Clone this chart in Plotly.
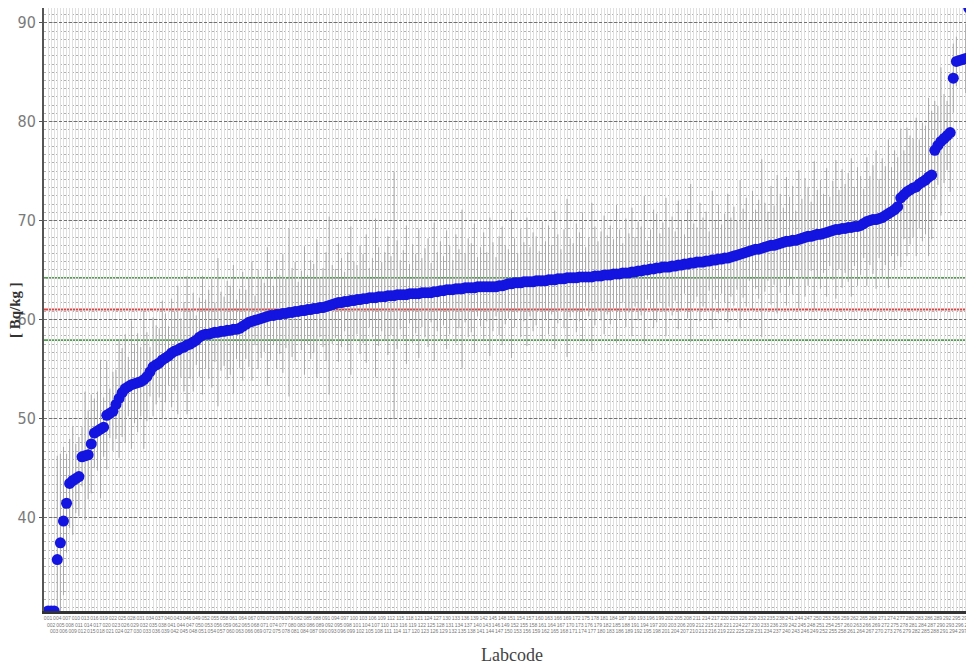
import plotly.graph_objects as go

# Sorted lab results [Bq/kg]
values = [
    30.5, 30.5, 30.5, 35.7, 37.4, 39.6, 41.4, 43.4, 43.7, 43.9,
    44.1, 46.1, 46.2, 46.3, 47.4, 48.5, 48.7, 48.9, 49.1, 50.3,
    50.5, 50.7, 51.4, 52.0, 52.6, 53.0, 53.2, 53.4, 53.5, 53.6,
    53.7, 53.9, 54.2, 54.7, 55.2, 55.4, 55.6, 55.9, 56.1, 56.3,
    56.6, 56.8, 56.9, 57.1, 57.2, 57.4, 57.5, 57.7, 57.9, 58.2,
    58.4, 58.5, 58.5, 58.6, 58.7, 58.7, 58.8, 58.8, 58.9, 58.9,
    59.0, 59.0, 59.1, 59.3, 59.5, 59.7, 59.8, 59.9, 60.0, 60.1,
    60.2, 60.3, 60.4, 60.4, 60.5, 60.5, 60.6, 60.6, 60.7, 60.7,
    60.8, 60.8, 60.9, 60.9, 61.0, 61.0, 61.1, 61.1, 61.2, 61.2,
    61.3, 61.4, 61.5, 61.6, 61.7, 61.7, 61.8, 61.8, 61.9, 61.9,
    62.0, 62.0, 62.1, 62.1, 62.2, 62.2, 62.2, 62.3, 62.3, 62.3,
    62.4, 62.4, 62.4, 62.5, 62.5, 62.5, 62.5, 62.6, 62.6, 62.6,
    62.6, 62.7, 62.7, 62.7, 62.7, 62.8, 62.8, 62.9, 62.9, 63.0,
    63.0, 63.0, 63.1, 63.1, 63.1, 63.2, 63.2, 63.2, 63.2, 63.3,
    63.3, 63.3, 63.3, 63.3, 63.3, 63.3, 63.4, 63.4, 63.5, 63.6,
    63.6, 63.7, 63.7, 63.7, 63.8, 63.8, 63.8, 63.8, 63.9, 63.9,
    63.9, 63.9, 64.0, 64.0, 64.0, 64.1, 64.1, 64.1, 64.2, 64.2,
    64.2, 64.2, 64.3, 64.3, 64.3, 64.3, 64.3, 64.4, 64.4, 64.4,
    64.5, 64.5, 64.5, 64.6, 64.6, 64.6, 64.7, 64.7, 64.7, 64.8,
    64.8, 64.9, 64.9, 65.0, 65.0, 65.1, 65.1, 65.2, 65.2, 65.3,
    65.3, 65.3, 65.4, 65.4, 65.5, 65.5, 65.6, 65.6, 65.7, 65.7,
    65.8, 65.8, 65.8, 65.9, 65.9, 66.0, 66.0, 66.1, 66.1, 66.2,
    66.2, 66.3, 66.4, 66.5, 66.6, 66.7, 66.8, 66.9, 67.0, 67.1,
    67.1, 67.2, 67.3, 67.4, 67.5, 67.5, 67.6, 67.7, 67.8, 67.9,
    67.9, 68.0, 68.0, 68.1, 68.2, 68.3, 68.4, 68.4, 68.5, 68.6,
    68.6, 68.7, 68.8, 68.9, 69.0, 69.1, 69.1, 69.2, 69.2, 69.3,
    69.3, 69.4, 69.4, 69.5, 69.7, 69.9, 70.0, 70.1, 70.1, 70.2,
    70.3, 70.5, 70.7, 70.9, 71.1, 71.4, 72.3, 72.6, 72.9, 73.1,
    73.3, 73.4, 73.7, 73.9, 74.1, 74.4, 74.6, 77.1, 77.6, 78.0,
    78.3, 78.6, 78.9, 84.4, 86.1, 86.2, 86.3, 86.4, 91.5, 91.6,
]

# Reported uncertainties [Bq/kg]
uncert = [
    0, 0, 0, 10.5, 9.0, 7.5, 5.0, 4.5, 5.5, 3.5,
    4.0, 3.0, 6.5, 4.5, 5.0, 3.5, 4.0, 7.0, 3.0, 5.5,
    2.5, 4.0, 3.5, 6.0, 4.5, 5.5, 3.0, 6.5, 4.0, 5.0,
    3.5, 7.0, 4.5, 2.5, 5.0, 4.0, 3.5, 6.0, 4.5, 3.0,
    5.5, 4.0, 6.5, 3.0, 4.5, 7.0, 3.5, 5.0, 2.5, 4.0,
    6.0, 3.5, 4.5, 5.5, 3.0, 7.5, 4.0, 3.5, 5.0, 4.5,
    6.5, 3.0, 4.0, 5.5, 3.5, 4.5, 6.0, 2.5, 5.0, 4.0,
    3.5, 7.0, 4.5, 3.0, 5.5, 4.0, 6.0, 3.5, 8.5, 4.5,
    5.0, 3.0, 4.0, 6.5, 3.5, 5.0, 4.5, 7.0, 3.0, 4.0,
    5.5, 9.0, 4.0, 3.5, 6.0, 4.5, 3.0, 5.0, 7.5, 4.0,
    3.5, 5.5, 4.5, 6.5, 3.0, 4.0, 8.0, 5.0, 3.5, 4.5,
    6.0, 4.0, 12.5, 5.5, 3.5, 4.5, 7.0, 3.0, 5.0, 4.0,
    6.5, 3.5, 4.5, 5.5, 3.0, 7.0, 4.0, 5.0, 3.5, 6.0,
    4.5, 3.0, 5.5, 4.0, 8.0, 3.5, 5.0, 4.5, 6.5, 3.0,
    4.0, 5.5, 3.5, 7.0, 4.5, 3.0, 5.0, 6.0, 4.0, 3.5,
    7.5, 4.5, 3.0, 5.5, 4.0, 6.5, 3.5, 5.0, 4.5, 3.0,
    6.0, 4.0, 5.5, 3.5, 7.0, 4.5, 3.0, 5.0, 8.0, 4.0,
    3.5, 5.5, 4.5, 6.5, 3.0, 4.0, 7.5, 5.0, 3.5, 4.5,
    6.0, 4.0, 5.0, 3.5, 7.0, 4.5, 3.0, 5.5, 4.0, 6.5,
    3.5, 5.0, 4.5, 7.5, 3.0, 4.0, 6.0, 5.5, 3.5, 4.5,
    7.0, 4.0, 5.0, 3.5, 6.5, 4.5, 3.0, 5.5, 8.0, 4.0,
    3.5, 6.0, 4.5, 5.0, 3.0, 7.0, 4.0, 5.5, 3.5, 4.5,
    6.5, 4.0, 5.0, 3.5, 7.5, 4.5, 5.5, 3.0, 6.0, 4.0,
    5.0, 9.0, 4.5, 3.5, 6.0, 4.0, 7.0, 5.0, 3.5, 6.5,
    4.5, 5.5, 3.0, 7.0, 4.0, 6.0, 5.0, 3.5, 7.5, 4.5,
    5.5, 4.0, 6.5, 3.5, 5.0, 7.0, 4.0, 6.0, 4.5, 5.5,
    7.0, 4.0, 6.0, 5.0, 3.5, 6.5, 4.5, 5.5, 7.0, 4.0,
    6.0, 5.0, 7.5, 4.5, 6.0, 5.0, 7.0, 4.5, 6.5, 5.5,
    5.0, 7.0, 4.5, 6.0, 5.5, 8.0, 6.5, 5.0, 4.0, 7.5,
    4.5, 3.5, 6.0, 3.5, 2.5, 0, 0, 3.5, 0, 0,
]

# Lab codes (tiny, unreadable in the reference)
labcodes = [f"{n:03d}" for n in range(1, len(values) + 1)]

assigned_value = 61.0
lower_limit = 57.9
upper_limit = 64.2

y_ticks = [40, 50, 60, 70, 80, 90]

# stagger labels over three rows
ticktext = [("<br>" * (k % 3)) + code for k, code in enumerate(labcodes)]

fig = go.Figure()
fig.add_trace(go.Scatter(
    x=labcodes, y=values,
    mode="markers",
    marker=dict(color="#1414e0", size=11, line=dict(width=0)),
    error_y=dict(type="data", array=uncert, visible=True,
                 color="#a8a8a8", thickness=1, width=0),
    showlegend=False,
))

for val, col in [(upper_limit, "#4f9f4f"), (assigned_value, "#dc4444"), (lower_limit, "#4f9f4f")]:
    fig.add_shape(type="line", xref="paper", x0=0, x1=1, yref="y", y0=val, y1=val,
                  line=dict(color=col, width=1.8), layer="between")

n = len(values)
# the page body has an 8px margin, so the figure is offset by 8px
fig.update_layout(
    width=966, height=663,
    margin=dict(l=36, r=0, t=0, b=60, autoexpand=False),
    paper_bgcolor="white", plot_bgcolor="white",
    font=dict(family="Liberation Sans", color="#555"),
    xaxis=dict(
        type="category", automargin=False,
        range=[-1.3, n - 0.3],
        tickmode="array", tickvals=labcodes, ticktext=ticktext,
        tickangle=0, tickfont=dict(size=5, color="#777"),
        ticks="", showgrid=True, gridcolor="#e0e0e0", gridwidth=1,
        showline=True, linecolor="#333", linewidth=3, mirror=True,
        zeroline=False,
    ),
    yaxis=dict(
        range=[30.5, 91.5], automargin=False,
        tickmode="array", tickvals=y_ticks,
        tickfont=dict(size=16, color="#7a7a7a",
                      family="Liberation Sans Narrow, DejaVu Sans Condensed, sans-serif"),
        ticks="outside", ticklen=3, tickcolor="#555",
        showgrid=True, gridcolor="#707070", griddash="3px,2px", gridwidth=1,
        minor=dict(dtick=10 / 12, tick0=0, showgrid=True, gridcolor="#b0b0b0",
                   griddash="2px,2px", gridwidth=1),
        showline=True, linecolor="#555", linewidth=2,
        zeroline=False,
    ),
    annotations=[
        dict(text="<b>[ Bq/kg ]</b>", xref="paper", yref="paper", x=-0.0312, y=0.499,
             xanchor="center", yanchor="middle", textangle=-90, showarrow=False,
             font=dict(size=15, color="#333", family="Liberation Serif")),
        dict(text="Labcode", xref="paper", yref="paper", x=0.503, y=-0.0735,
             xanchor="center", yanchor="middle", showarrow=False,
             font=dict(size=18, color="#444", family="Liberation Serif")),
    ],
)

fig.write_html("out.html")
